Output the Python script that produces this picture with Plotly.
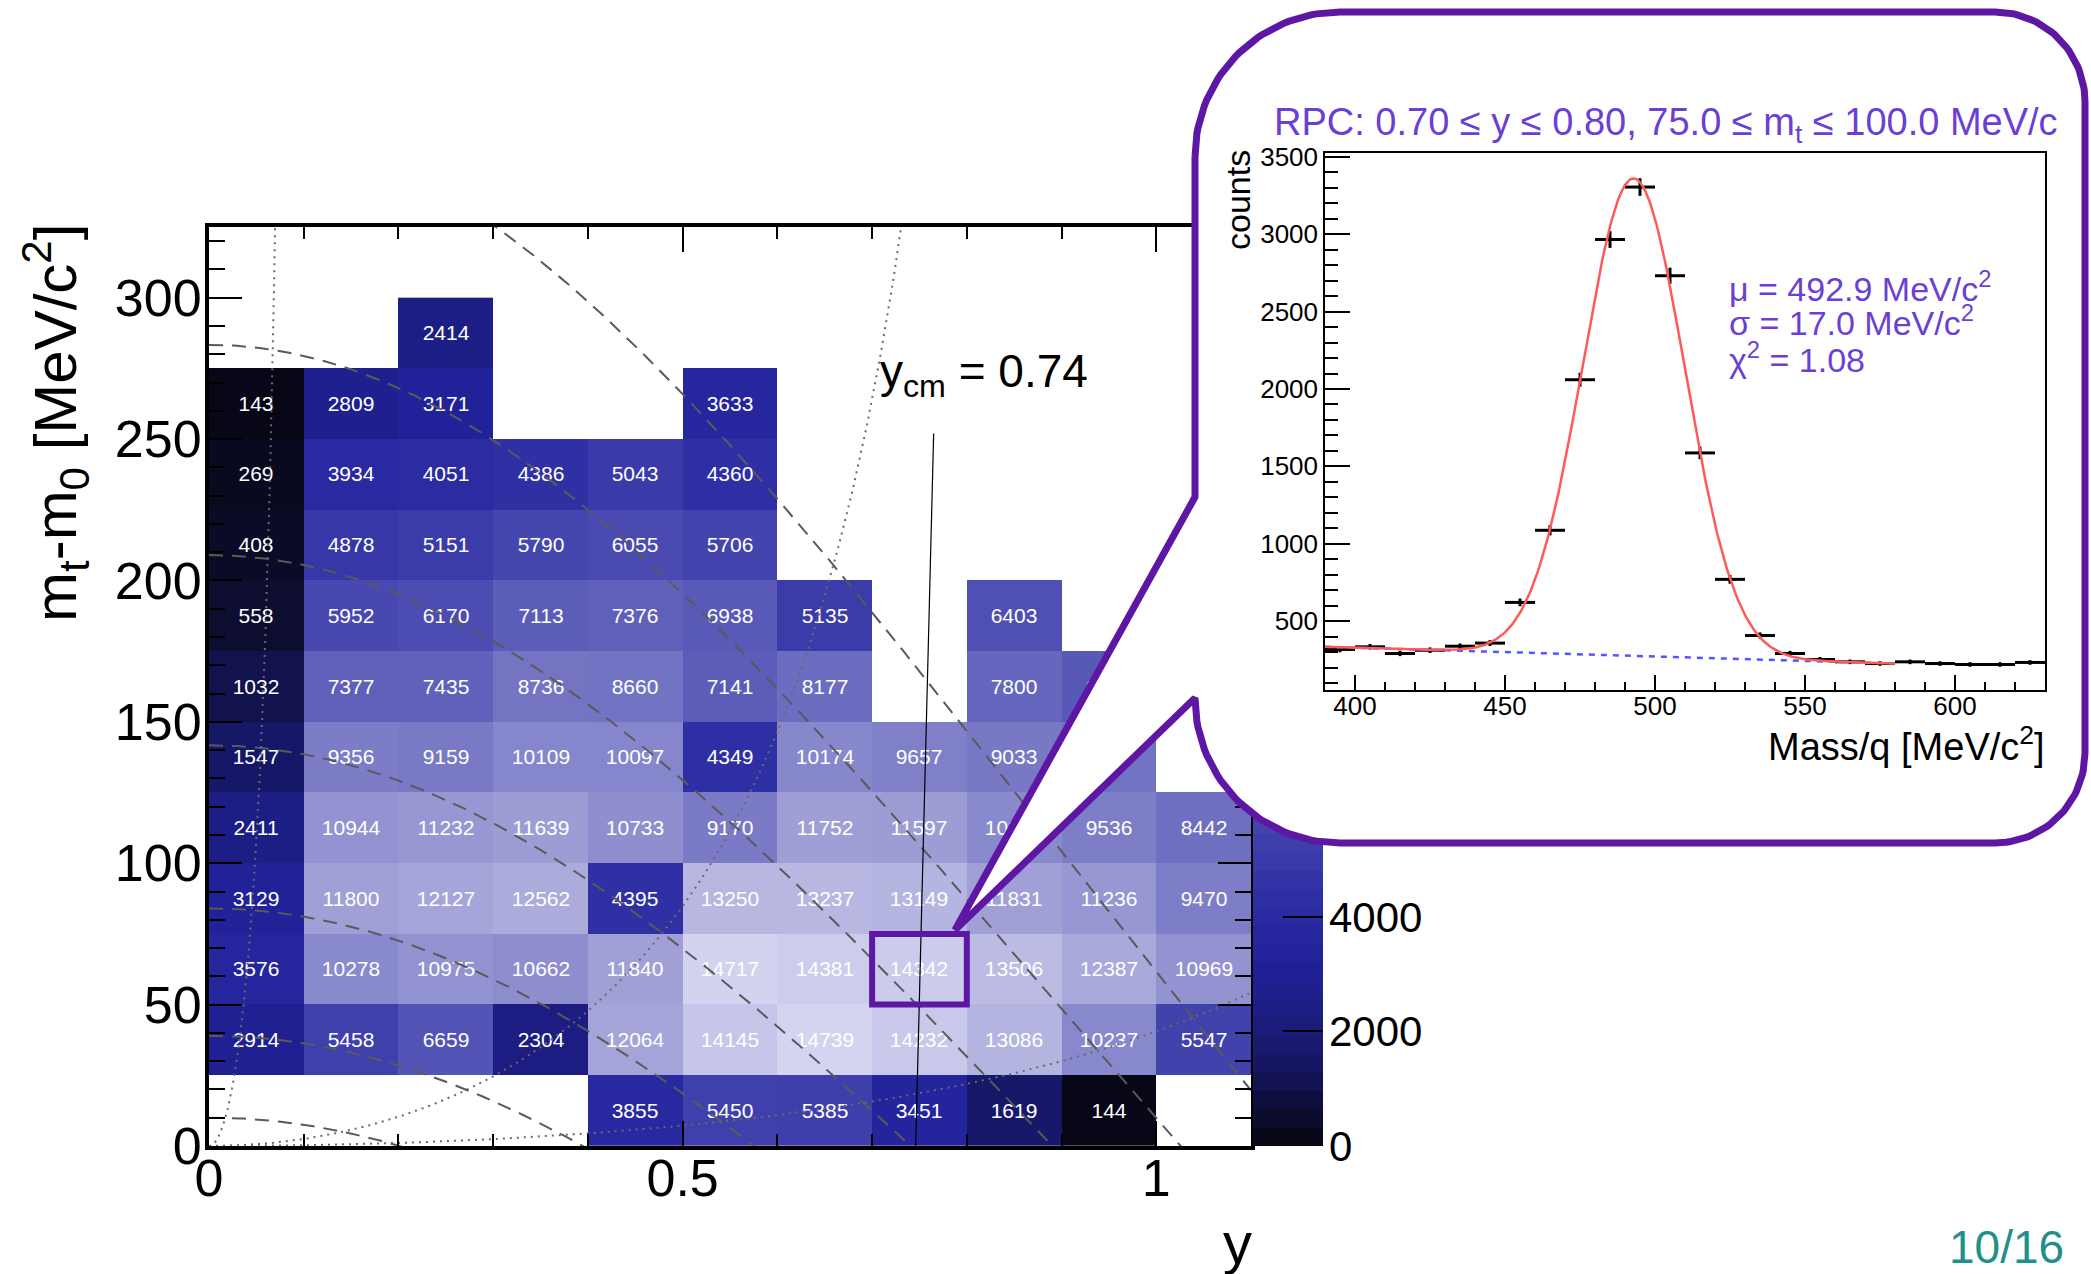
import numpy as np
import plotly.graph_objects as go

W, H = 2091, 1274
FONT = "Liberation Sans, Arial, Helvetica, sans-serif"
PURPLE_TXT = "#6b3fd4"
PURPLE_LINE = "#5e17a4"

# ---------------- main histogram (rapidity vs mt-m0) ----------------
rapidity_centers = [0.05, 0.15, 0.25, 0.35, 0.45, 0.55, 0.65, 0.75, 0.85, 0.95, 1.05]
mt_centers = [12.5, 37.5, 62.5, 87.5, 112.5, 137.5, 162.5, 187.5, 212.5, 237.5, 262.5, 287.5]

row_000_025 = [None, None, None, None, 3855, 5450, 5385, 3451, 1619, 144, None]
row_025_050 = [2914, 5458, 6659, 2304, 12064, 14145, 14739, 14232, 13086, 10237, 5547]
row_050_075 = [3576, 10278, 10975, 10662, 11840, 14717, 14381, 14342, 13506, 12387, 10969]
row_075_100 = [3129, 11800, 12127, 12562, 4395, 13250, 13237, 13149, 11831, 11236, 9470]
row_100_125 = [2411, 10944, 11232, 11639, 10733, 9170, 11752, 11597, 10300, 9536, 8442]
row_125_150 = [1547, 9356, 9159, 10109, 10097, 4349, 10174, 9657, 9033, 8600, None]
row_150_175 = [1032, 7377, 7435, 8736, 8660, 7141, 8177, None, 7800, 6900, None]
row_175_200 = [558, 5952, 6170, 7113, 7376, 6938, 5135, None, 6403, None, None]
row_200_225 = [408, 4878, 5151, 5790, 6055, 5706, None, None, None, None, None]
row_225_250 = [269, 3934, 4051, 4386, 5043, 4360, None, None, None, None, None]
row_250_275 = [143, 2809, 3171, None, None, 3633, None, None, None, None, None]
row_275_300 = [None, None, 2414, None, None, None, None, None, None, None, None]

counts = [row_000_025, row_025_050, row_050_075, row_075_100, row_100_125, row_125_150,
          row_150_175, row_175_200, row_200_225, row_225_250, row_250_275, row_275_300]
count_text = [["" if v is None else str(v) for v in row] for row in counts]

Z_MAX = 16050
colorscale = [
    [0.00, "#050510"], [0.02, "#0a0a22"], [0.065, "#12124e"], [0.10, "#18186a"],
    [0.15, "#1d1d86"], [0.20, "#21219a"], [0.25, "#2a2aa2"], [0.30, "#3636a8"],
    [0.37, "#4848b0"], [0.45, "#5e5eba"], [0.55, "#7575c4"], [0.63, "#8686cc"],
    [0.72, "#9c9cd5"], [0.80, "#b0b0de"], [0.88, "#c6c6ea"], [0.93, "#d8d8f2"],
    [1.00, "#ececfa"],
]
colorbar_ticks = [0, 2000, 4000, 6000, 8000, 10000, 12000, 14000, 16000]
N_COLOR_LEVELS = 50

# kinematic guide lines (K+ mass): constant lab momentum and constant polar angle
KAON_MASS = 493.7
momentum_lines = [100, 200, 300, 400, 500, 600, 700]
theta_lines_deg = [18, 45, 85]
Y_CM = 0.74
ycm_line_x = [0.765, 0.746]
ycm_line_y = [252, 0]
sel_box_y = [0.7, 0.8]
sel_box_mt = [50, 75]

# ---------------- inset: mass spectrum ----------------
mass_centers = [395, 405, 415, 425, 435, 445, 455, 465, 475, 485, 495, 505,
                515, 525, 535, 545, 555, 565, 575, 585, 595, 605, 615, 625]
mass_counts = [317, 334, 291, 312, 338, 358, 621, 1087, 2060, 2966, 3305, 2732,
               1587, 770, 407, 291, 252, 237, 226, 237, 226, 220, 220, 233]
mass_errors = [18, 18, 17, 18, 18, 19, 25, 33, 45, 54, 57, 52,
               40, 28, 20, 17, 16, 15, 15, 15, 15, 15, 15, 15]
FIT_MU, FIT_SIGMA, FIT_AMP = 492.9, 17.0, 3085
FIT_CHI2 = 1.08
BG_AT_390, BG_SLOPE = 334, -0.568
FIT_RANGE = [390, 580]

# ---------------- geometry (pixels) ----------------
MAIN_L, MAIN_R, MAIN_T, MAIN_B = 209, 1251, 227, 1146
CB_L, CB_R = 1253, 1323
INS_L, INS_R, INS_T, INS_B = 1325, 2045, 153, 690
CALL_L, CALL_R, CALL_T, CALL_B = 1195, 2085, 12, 843
R_LEFT, R_RIGHT = 145, 90
TAIL_UPPER_Y = 497
TAIL_TIP = (955, 930)


def px(x):
    return x / W


def py(y):
    return 1 - y / H


fig = go.Figure()

# main heatmap
fig.add_trace(go.Heatmap(
    x=rapidity_centers, y=mt_centers, z=counts, zmin=0, zmax=Z_MAX,
    colorscale=colorscale, showscale=False, text=count_text, texttemplate="%{text}",
    textfont=dict(family=FONT, size=21, color="white"), hoverinfo="skip",
    xaxis="x", yaxis="y"))

# constant-momentum lines (dashed)
yy = np.linspace(0, 1.1, 300)
for p in momentum_lines:
    mt = np.sqrt(p ** 2 + KAON_MASS ** 2) / np.cosh(yy) - KAON_MASS
    ok = mt >= -2
    fig.add_trace(go.Scatter(x=yy[ok], y=mt[ok], mode="lines",
                             line=dict(color="#5a5a5a", width=2, dash="14px,9px"),
                             hoverinfo="skip", showlegend=False, xaxis="x", yaxis="y"))

# constant-angle lines (dotted)
dm = np.linspace(0, np.sqrt(340), 400) ** 2
for th in theta_lines_deg:
    mtot = dm + KAON_MASS
    s = np.sqrt(1 - (KAON_MASS / mtot) ** 2) / np.tan(np.radians(th))
    fig.add_trace(go.Scatter(x=np.arcsinh(s), y=dm, mode="lines",
                             line=dict(color="#6a6a6a", width=2, dash="2px,5px"),
                             hoverinfo="skip", showlegend=False, xaxis="x", yaxis="y"))

# y_cm line
fig.add_trace(go.Scatter(x=ycm_line_x, y=ycm_line_y, mode="lines",
                         line=dict(color="black", width=1.2), hoverinfo="skip",
                         showlegend=False, xaxis="x", yaxis="y"))

# colour bar as its own heatmap (so the callout can cover it)
edges = np.linspace(0, Z_MAX, N_COLOR_LEVELS + 1)
level_centers = 0.5 * (edges[:-1] + edges[1:])
fig.add_trace(go.Heatmap(x=[0], y=level_centers, z=[[v] for v in level_centers],
                         zmin=0, zmax=Z_MAX, colorscale=colorscale, showscale=False,
                         hoverinfo="skip", xaxis="x2", yaxis="y2"))


# callout (speech bubble)
def arc(cx, cy, r, a0, a1, n=40):
    a = np.radians(np.linspace(a0, a1, n))
    return list(cx + r * np.cos(a)), list(cy - r * np.sin(a))


cx_, cy_ = [], []
for (cx, cy, r, a0, a1) in [
    (CALL_L + R_LEFT, CALL_T + R_LEFT, R_LEFT, 180, 90),
    (CALL_R - R_RIGHT, CALL_T + R_RIGHT, R_RIGHT, 90, 0),
    (CALL_R - R_RIGHT, CALL_B - R_RIGHT, R_RIGHT, 0, -90),
    (CALL_L + R_LEFT, CALL_B - R_LEFT, R_LEFT, -90, -180),
]:
    ax_, ay_ = arc(cx, cy, r, a0, a1)
    cx_ += ax_
    cy_ += ay_
cx_ += [TAIL_TIP[0], CALL_L, CALL_L]
cy_ += [TAIL_TIP[1], TAIL_UPPER_Y, CALL_T + R_LEFT]
fig.add_trace(go.Scatter(x=cx_, y=cy_, mode="lines", fill="toself", fillcolor="white",
                         line=dict(color=PURPLE_LINE, width=7), hoverinfo="skip",
                         showlegend=False, xaxis="x3", yaxis="y3"))

# inset data
fig.add_trace(go.Scatter(
    x=mass_centers, y=mass_counts, mode="markers",
    marker=dict(color="black", size=3),
    error_x=dict(type="constant", value=5, width=0, thickness=3, color="black"),
    error_y=dict(type="data", array=mass_errors, width=0, thickness=3, color="black"),
    hoverinfo="skip", showlegend=False, xaxis="x4", yaxis="y4"))
xf = np.linspace(FIT_RANGE[0], FIT_RANGE[1], 400)
bg = BG_AT_390 + BG_SLOPE * (xf - 390)
fig.add_trace(go.Scatter(x=xf, y=bg, mode="lines",
                         line=dict(color="#5555ff", width=2.5, dash="6px,6px"),
                         hoverinfo="skip", showlegend=False, xaxis="x4", yaxis="y4"))
fig.add_trace(go.Scatter(x=xf, y=bg + FIT_AMP * np.exp(-0.5 * ((xf - FIT_MU) / FIT_SIGMA) ** 2),
                         mode="lines", line=dict(color="#ff5a5a", width=2.5),
                         hoverinfo="skip", showlegend=False, xaxis="x4", yaxis="y4"))

tickfont_main = dict(family=FONT, size=52, color="black")
tickfont_ins = dict(family=FONT, size=26, color="black")

fig.update_layout(
    width=W, height=H, autosize=False, template="none",
    margin=dict(l=0, r=0, t=0, b=0, pad=0, autoexpand=False),
    paper_bgcolor="white", plot_bgcolor="rgba(0,0,0,0)",
    showlegend=False,
    xaxis=dict(domain=[px(MAIN_L), px(MAIN_R)], range=[0, 1.1], anchor="y",
               automargin=False, ticklabelstandoff=-16,
               tickmode="linear", tick0=0, dtick=0.5, ticks="inside", ticklen=25,
               tickwidth=2, tickcolor="black",
               minor=dict(ticks="inside", dtick=0.1, tick0=0, ticklen=12, tickwidth=2,
                          tickcolor="black"),
               showline=True, linewidth=4, linecolor="black", mirror="ticks",
               showgrid=False, zeroline=False, tickfont=tickfont_main),
    yaxis=dict(domain=[py(MAIN_B), py(MAIN_T)], range=[0, 325], anchor="x",
               automargin=False, ticklabelstandoff=-7,
               tickmode="linear", tick0=0, dtick=50, ticks="inside", ticklen=33,
               tickwidth=2, tickcolor="black",
               minor=dict(ticks="inside", dtick=10, tick0=0, ticklen=16, tickwidth=2,
                          tickcolor="black"),
               showline=True, linewidth=4, linecolor="black", mirror="ticks",
               showgrid=False, zeroline=False, tickfont=tickfont_main),
    xaxis2=dict(domain=[px(CB_L), px(CB_R)], range=[-0.5, 0.5], anchor="y2",
                visible=False, fixedrange=True, automargin=False),
    yaxis2=dict(domain=[py(MAIN_B), py(MAIN_T)], range=[0, Z_MAX], anchor="x2",
                automargin=False, ticklabelstandoff=5,
                side="right", tickmode="array", tickvals=colorbar_ticks,
                ticks="inside", ticklen=40, tickwidth=2, tickcolor="black",
                showline=False, showgrid=False, zeroline=False,
                tickfont=dict(family=FONT, size=42, color="black")),
    xaxis3=dict(domain=[0, 1], range=[0, W], anchor="y3", visible=False,
                fixedrange=True, automargin=False),
    yaxis3=dict(domain=[0, 1], range=[H, 0], anchor="x3", visible=False,
                fixedrange=True, automargin=False),
    xaxis4=dict(domain=[px(INS_L), px(INS_R)], range=[390, 630], anchor="y4",
                automargin=False, ticklabelstandoff=-8,
                tickmode="linear", tick0=0, dtick=50, ticks="inside", ticklen=15,
                tickwidth=1.5, tickcolor="black",
                minor=dict(ticks="inside", dtick=10, ticklen=8, tickwidth=1.5,
                           tickcolor="black"),
                showline=True, linewidth=1.5, linecolor="black", mirror=True,
                showgrid=False, zeroline=False, tickfont=tickfont_ins),
    yaxis4=dict(domain=[py(INS_B), py(INS_T)], range=[55, 3525], anchor="x4",
                automargin=False,
                tickmode="linear", tick0=0, dtick=500, ticks="inside", ticklen=25,
                tickwidth=1.5, tickcolor="black",
                minor=dict(ticks="inside", dtick=100, ticklen=13, tickwidth=1.5,
                           tickcolor="black"),
                showline=True, linewidth=1.5, linecolor="black", mirror=True,
                showgrid=False, zeroline=False, tickfont=tickfont_ins),
)

# selection box around the fitted cell
fig.add_shape(type="rect", xref="x", yref="y", x0=sel_box_y[0], x1=sel_box_y[1],
              y0=sel_box_mt[0], y1=sel_box_mt[1], line=dict(color=PURPLE_LINE, width=6),
              layer="above")

ann = []
ann.append(dict(text="m<sub>t</sub>-m<sub>0</sub> [MeV/c<sup>2</sup>]", textangle=-90,
                x=px(55), y=py(222), xanchor="center", yanchor="top",
                font=dict(family=FONT, size=60, color="black")))
ann.append(dict(text="y", x=px(1237), y=py(1242), xanchor="center", yanchor="middle",
                font=dict(family=FONT, size=58, color="black")))
ann.append(dict(text="y<sub>cm</sub> = %.2f" % Y_CM, x=px(878), y=py(374),
                xanchor="left", yanchor="middle",
                font=dict(family=FONT, size=46, color="black")))
ann.append(dict(text="RPC: 0.70 \u2264 y \u2264 0.80, 75.0 \u2264 m<sub>t</sub> \u2264 100.0 MeV/c",
                x=px(1272), y=py(125), xanchor="left", yanchor="middle",
                font=dict(family=FONT, size=38, color=PURPLE_TXT)))
ann.append(dict(text="counts", textangle=-90, x=px(1238), y=py(148),
                xanchor="center", yanchor="top",
                font=dict(family=FONT, size=34, color="black")))
ann.append(dict(text="Mass/q [MeV/c<sup>2</sup>]", x=px(2047), y=py(744),
                xanchor="right", yanchor="middle",
                font=dict(family=FONT, size=38, color="black")))
fit_lines = ["\u03bc = %.1f MeV/c<sup>2</sup>" % FIT_MU,
             "\u03c3 = %.1f MeV/c<sup>2</sup>" % FIT_SIGMA,
             "\u03c7<sup>2</sup> = %.2f" % FIT_CHI2]
for t, yc in zip(fit_lines, [287, 321, 357]):
    ann.append(dict(text=t, x=px(1727), y=py(yc), xanchor="left", yanchor="middle",
                    font=dict(family=FONT, size=34, color=PURPLE_TXT)))
ann.append(dict(text="10/16", x=px(2066), y=py(1275), xanchor="right", yanchor="bottom",
                font=dict(family=FONT, size=46, color="#1f8f8a")))
for a in ann:
    a.update(xref="paper", yref="paper", showarrow=False)
fig.update_layout(annotations=ann)

fig.write_html("out.html")
